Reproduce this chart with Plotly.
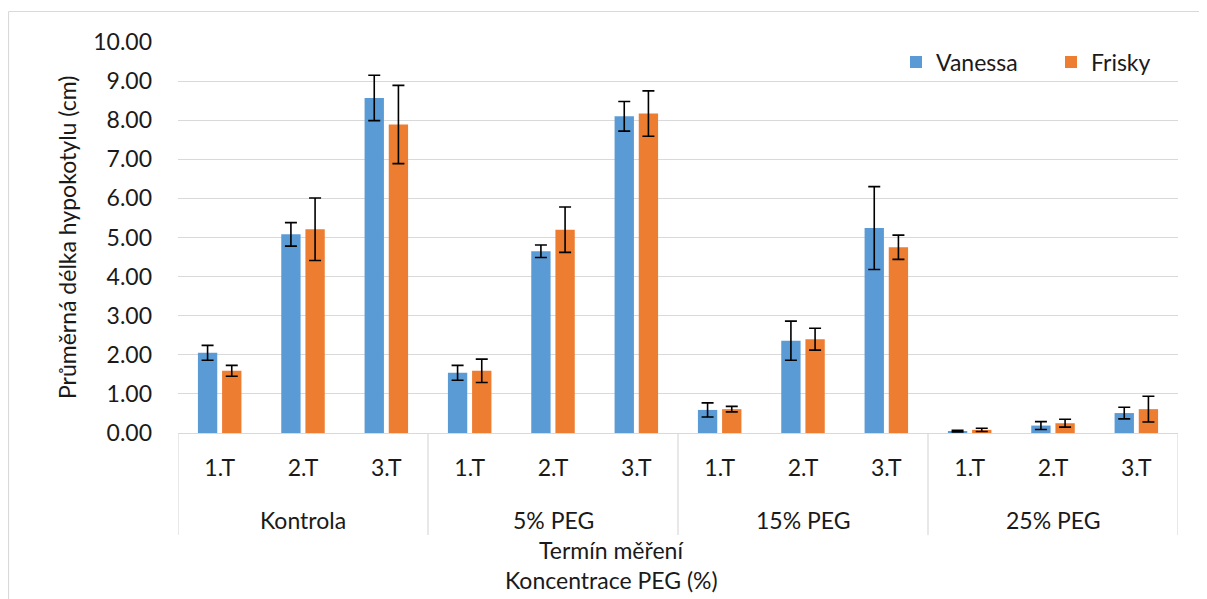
import plotly.graph_objects as go
import numpy as np

groups = ["Kontrola", "5% PEG", "15% PEG", "25% PEG"]
terms = ["1.T", "2.T", "3.T"]

vanessa = [2.05, 5.08, 8.57, 1.54, 4.65, 8.10, 0.59, 2.36, 5.24, 0.05, 0.19, 0.51]
vanessa_err = [0.19, 0.30, 0.58, 0.19, 0.16, 0.38, 0.18, 0.50, 1.06, 0.02, 0.10, 0.15]
frisky = [1.59, 5.21, 7.89, 1.59, 5.20, 8.17, 0.61, 2.40, 4.75, 0.08, 0.25, 0.61]
frisky_err = [0.14, 0.80, 1.00, 0.30, 0.58, 0.58, 0.07, 0.28, 0.31, 0.04, 0.10, 0.33]

y_title = "Průměrná délka hypokotylu (cm)"
x_title_1 = "Termín měření"
x_title_2 = "Koncentrace PEG (%)"

FONT = "Lato"
TXT = "#1a1a1a"
GRID = "#D9D9D9"
FS = 23

n = len(groups) * len(terms)
xpos = np.arange(n)
ticktext = [t for g in groups for t in terms]

# page has 8px body margin; work in screen pixels
OFF = 8
SW, SH = 1207, 599
PL, PR, PT, PB = 178, 1178, 42, 433  # plot area in screen px
W, H = SW - OFF, SH - OFF
L, T = PL - OFF, PT - OFF
R = W - (PR - OFF)
B = H - (PB - OFF)
pw, ph = PR - PL, PB - PT

def px_x(p):
    return (p - PL) / pw

def px_y(p):
    return (PB - p) / ph

fig = go.Figure()
fig.add_trace(go.Bar(
    name="Vanessa", x=xpos, y=vanessa,
    marker=dict(color="#5B9BD5", line=dict(width=0)),
    error_y=dict(type="data", array=vanessa_err, color="#000000", thickness=1.6, width=6),
))
fig.add_trace(go.Bar(
    name="Frisky", x=xpos, y=frisky,
    marker=dict(color="#ED7D31", line=dict(width=0)),
    error_y=dict(type="data", array=frisky_err, color="#000000", thickness=1.6, width=6),
))

shapes = []
# chart frame (left and top edges visible in the reference)
shapes.append(dict(type="line", xref="paper", yref="paper",
                   x0=px_x(8.5), x1=px_x(1240), y0=px_y(11.5), y1=px_y(11.5),
                   line=dict(color=GRID, width=1.2), layer="below"))
shapes.append(dict(type="line", xref="paper", yref="paper",
                   x0=px_x(8.5), x1=px_x(8.5), y0=px_y(11.5), y1=px_y(640),
                   line=dict(color=GRID, width=1.2), layer="below"))
for k in range(len(groups) + 1):
    xb = k * len(terms) - 0.5
    shapes.append(dict(type="line", xref="x", yref="paper", x0=xb, x1=xb,
                       y0=0, y1=px_y(535), line=dict(color=GRID, width=1.2)))

annotations = []
for gi, g in enumerate(groups):
    annotations.append(dict(x=gi * len(terms) + (len(terms) - 1) / 2, y=px_y(520), xref="x", yref="paper",
                            text=g, showarrow=False, xanchor="center", yanchor="middle",
                            font=dict(family=FONT, size=FS, color=TXT)))
annotations.append(dict(x=px_x(67), y=px_y(238), xref="paper", yref="paper", text=y_title,
                        textangle=-90, showarrow=False, xanchor="center", yanchor="middle",
                        font=dict(family=FONT, size=FS, color=TXT)))
annotations.append(dict(x=px_x(611), y=px_y(550), xref="paper", yref="paper", text=x_title_1,
                        showarrow=False, xanchor="center", yanchor="middle",
                        font=dict(family=FONT, size=FS, color=TXT)))
annotations.append(dict(x=px_x(611), y=px_y(580), xref="paper", yref="paper", text=x_title_2,
                        showarrow=False, xanchor="center", yanchor="middle",
                        font=dict(family=FONT, size=FS, color=TXT)))

fig.update_layout(
    width=W, height=H,
    margin=dict(l=L, r=R, t=T, b=B, pad=0, autoexpand=False),
    paper_bgcolor="white", plot_bgcolor="white",
    barmode="group", bargap=0.42, bargroupgap=0.2,
    font=dict(family=FONT, size=FS, color=TXT),
    showlegend=True,
    legend=dict(orientation="h", x=px_x(896), y=px_y(62), xanchor="left", yanchor="middle",
                font=dict(family=FONT, size=FS, color=TXT), bgcolor="rgba(0,0,0,0)",
                entrywidth=110, entrywidthmode="pixels", traceorder="normal"),
    xaxis=dict(range=[-0.5, n - 0.5], tickmode="array", tickvals=xpos, ticktext=ticktext,
               showgrid=False, zeroline=False, showline=True, linecolor=GRID, linewidth=1.2,
               ticks="", ticklabelstandoff=14, tickfont=dict(family=FONT, size=FS, color=TXT)),
    yaxis=dict(range=[0, 10], dtick=1, tick0=0, tickformat=".2f", showgrid=True,
               gridcolor=GRID, gridwidth=1.2, zeroline=False, showline=False, ticks="",
               ticklabelstandoff=25, tickfont=dict(family=FONT, size=FS, color=TXT)),
    shapes=shapes, annotations=annotations,
)

fig.write_html("out.html")
